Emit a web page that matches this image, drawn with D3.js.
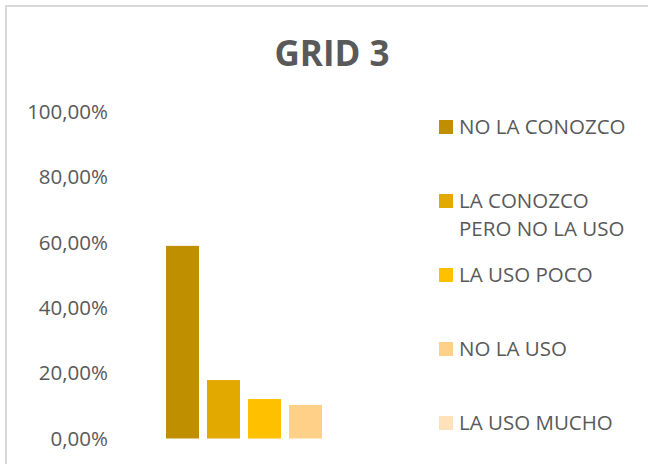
<!DOCTYPE html>
<html>
<head>
<meta charset="utf-8">
<script src="https://cdn.jsdelivr.net/npm/d3@7"></script>
<style>
  html, body { margin: 0; padding: 0; background: #fff; }
  text { font-family: "Open Sans", "Liberation Sans", sans-serif; fill: #595959; }
</style>
</head>
<body>
<div id="chart"></div>
<script>
// data
var categories = ["GRID 3"];
var series = ["NO LA CONOZCO", "LA CONOZCO PERO NO LA USO", "LA USO POCO", "NO LA USO", "LA USO MUCHO"];
var values = [0.59, 0.179, 0.121, 0.103, 0];
var colors = ["#BF8F00", "#E2AA00", "#FFC000", "#FFD188", "#FFE2BA"];
var yTicks = [0, 0.2, 0.4, 0.6, 0.8, 1];
// legend labels split into lines as in the picture
var legendLines = [["NO LA CONOZCO"], ["LA CONOZCO", "PERO NO LA USO"], ["LA USO POCO"], ["NO LA USO"], ["LA USO MUCHO"]];

var width = 648, height = 464;

var svg = d3.select("#chart")
  .append("svg")
    .attr("width", width)
    .attr("height", height);

// chart border (only top and left edges fall inside the picture)
svg.append("rect")
  .attr("x", 6)
  .attr("y", 6)
  .attr("width", width + 20)
  .attr("height", height + 20)
  .style("fill", "none")
  .style("stroke", "#D9D9D9")
  .style("stroke-width", 2);

// title
svg.append("text")
  .attr("x", 332)
  .attr("y", 66)
  .attr("text-anchor", "middle")
  .style("font-size", "35px")
  .style("font-weight", "bold")
  .text(categories[0]);

// scales
var y = d3.scaleLinear()
  .domain([0, 1])
  .range([438.5, 112]);

var x0 = d3.scaleBand()
  .domain(categories)
  .range([118, 411]);

var groupW = 205;
var x1 = d3.scaleBand()
  .domain(series)
  .range([(x0.bandwidth() - groupW) / 2, (x0.bandwidth() + groupW) / 2])
  .paddingInner(0.195)
  .paddingOuter(0.0975);

var locale = d3.formatLocale({decimal: ",", thousands: ".", grouping: [3], currency: ["", "€"]});
var fmt = locale.format(".2%");

// Y axis (labels only)
var yAxis = svg.append("g")
  .attr("transform", "translate(108,0)")
  .call(d3.axisLeft(y).tickValues(yTicks).tickFormat(fmt).tickSize(0).tickPadding(0));
yAxis.select(".domain").remove();
yAxis.selectAll("text")
  .style("font-size", "20.5px")
  .style("font-family", "\"Open Sans\", sans-serif")
  .attr("fill", "#595959");

// bars
var g = svg.append("g")
  .attr("transform", "translate(" + x0(categories[0]) + ",0)");

g.selectAll("rect")
  .data(series)
  .enter()
  .append("rect")
    .attr("x", function(d) { return x1(d); })
    .attr("width", x1.bandwidth())
    .attr("y", function(d, i) { return y(values[i]); })
    .attr("height", function(d, i) { return y(0) - y(values[i]); })
    .style("fill", function(d, i) { return colors[i]; });

// legend
var legendY = d3.scalePoint()
  .domain(series)
  .range([127, 423]);

var leg = svg.selectAll(".legend")
  .data(series)
  .enter()
  .append("g")
    .attr("class", "legend")
    .attr("transform", function(d) { return "translate(439," + legendY(d) + ")"; });

leg.append("rect")
  .attr("x", 0)
  .attr("y", -7)
  .attr("width", 14)
  .attr("height", 14)
  .style("fill", function(d, i) { return colors[i]; });

leg.each(function(d, i) {
  var t = d3.select(this).append("text")
    .attr("x", 20)
    .attr("y", 0)
    .style("font-size", "20.5px");
  legendLines[i].forEach(function(line, k) {
    t.append("tspan")
      .attr("x", 20)
      .attr("y", k * 28)
      .attr("dy", "0.35em")
      .text(line);
  });
});
</script>
</body>
</html>
